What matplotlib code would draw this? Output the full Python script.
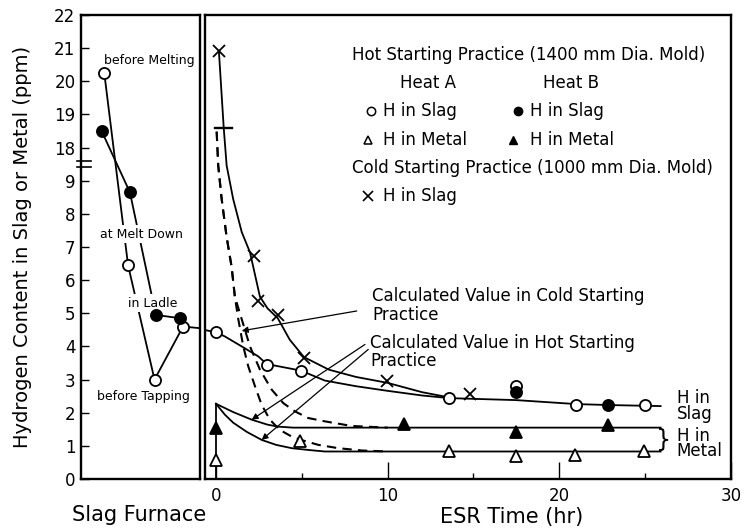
import numpy as np
import matplotlib.pyplot as plt
import matplotlib.transforms as mtransforms

plt.rcParams['font.family'] = 'DejaVu Sans'
plt.rcParams['font.size'] = 12

# ---- slag furnace stages (left panel) ----
stage_x_open = [0.1, 1.0, 2.0, 3.08]
stage_x_filled = [0.0, 1.07, 2.05, 2.98]
furnace_heatA = [20.25, 6.45, 3.0, 4.6]
furnace_heatB = [18.5, 8.65, 4.95, 4.85]
transfer_h = 4.55
stage_labels = ['before Melting', 'at Melt Down', 'in Ladle', 'before Tapping']

# ---- ESR measured values (right panel) ----
heatA_slag_t = [0, 2.95, 4.95, 13.6, 17.5, 21.0, 25.0]
heatA_slag_h = [4.43, 3.45, 3.27, 2.44, 2.8, 2.24, 2.24]
heatB_slag_t = [17.5, 22.85]
heatB_slag_h = [2.62, 2.24]
heatA_metal_t = [0, 4.88, 13.57, 17.5, 20.9, 24.94]
heatA_metal_h = [0.58, 1.15, 0.85, 0.68, 0.73, 0.83]
heatB_metal_t = [0, 10.93, 17.5, 22.85]
heatB_metal_h = [1.55, 1.67, 1.43, 1.62]
cold_slag_t = [0.17, 2.2, 2.46, 3.62, 5.12, 9.96, 14.77]
cold_slag_h = [20.9, 6.74, 5.37, 4.95, 3.66, 2.95, 2.57]

# ---- curves drawn through the data ----
slag_curve_t = [-0.7, 0, 0.52, 1.5, 2.46, 2.95, 4.95, 6.34, 8.15, 10, 12, 13.6,
                17.5, 21, 23, 25.9]
slag_curve_h = [4.5, 4.43, 4.3, 4.0, 3.7, 3.47, 3.27, 2.97, 2.8, 2.66, 2.52,
                2.44, 2.38, 2.26, 2.23, 2.2]
cold_curve_t = [0.17, 0.45, 0.62, 1.0, 1.5, 1.98, 2.56, 3.0, 3.6, 4.3, 5.12,
                6.57, 8.15, 10, 12, 13.6]
cold_curve_h = [20.9, 18.6, 9.46, 8.45, 7.45, 6.84, 5.5, 5.15, 4.85, 4.2,
                3.68, 3.3, 3.08, 2.9, 2.62, 2.46]

# calculated, hot starting practice (solid)
calc_hi_t = [0, 0.52, 1.0, 2.08, 3.0, 3.62, 4.5, 25.9]
calc_hi_h = [2.27, 2.14, 2.02, 1.79, 1.64, 1.58, 1.55, 1.55]
calc_lo_t = [0, 0.52, 1.0, 1.8, 2.66, 3.5, 4.41, 5.5, 6.34, 25.9]
calc_lo_h = [2.27, 1.94, 1.70, 1.42, 1.18, 1.03, 0.93, 0.87, 0.83, 0.83]

# calculated, cold starting practice (dashed)
dash_hi_t = [0.04, 0.13, 0.33, 0.62, 0.91, 1.1, 1.5, 1.98, 2.56, 3.24, 3.92,
             4.6, 5.37, 6.34, 7.9, 10.0]
dash_hi_h = [18.48, 9.46, 8.45, 7.3, 6.4, 5.5, 4.82, 4.0, 3.3, 2.7, 2.29,
             2.04, 1.84, 1.74, 1.6, 1.55]
dash_lo_t = [0.04, 0.13, 0.33, 0.62, 0.91, 1.1, 1.3, 1.59, 1.88, 2.27, 2.66,
             3.14, 3.72, 4.41, 4.95, 5.96, 7.12, 8.5, 10.0]
dash_lo_h = [18.48, 9.46, 8.45, 7.3, 6.4, 5.5, 4.82, 4.0, 3.4, 2.8, 2.24,
             1.79, 1.48, 1.28, 1.18, 1.03, 0.93, 0.86, 0.83]

ytick_vals = [0, 1, 2, 3, 4, 5, 6, 7, 8, 9, 18, 19, 20, 21, 22]


def brk(v):
    # broken axis: values above the gap are shifted down by 8 ppm
    v = np.asarray(v, dtype=float)
    return np.where(v > 12, v - 8.0, v)


fig = plt.figure(figsize=(7.51, 5.28), dpi=100)
axL = fig.add_axes([81/751, 49/528, 119/751, 464/528])
axR = fig.add_axes([205/751, 49/528, 526/751, 464/528])

for ax in (axL, axR):
    ax.set_ylim(0, 14)
    for s in ax.spines.values():
        s.set_linewidth(1.7)

axL.set_xlim(-0.78, 3.72)
axR.set_xlim(-0.64, 30)

axL.set_yticks(brk(ytick_vals))
axL.set_yticklabels([str(v) for v in ytick_vals])
axL.tick_params(axis='y', direction='in', length=6, width=1, pad=4,
                labelsize=12)
axL.set_xticks([])
axR.set_yticks([])
axR.set_xticks([0, 10, 20, 30])
axR.set_xticklabels(['0', '10', '20', '30'])
axR.set_xticks([5, 15, 25], minor=True)
axR.tick_params(axis='x', which='major', direction='in', length=12,
                width=1, pad=6, labelsize=12)
axR.tick_params(axis='x', which='minor', direction='in', length=4, width=1)

axL.set_ylabel('Hydrogen Content in Slag or Metal (ppm)', fontsize=14)
axL.yaxis.set_label_coords(-0.41, 0.5)
axL.text(0.49, -0.078, 'Slag Furnace', transform=axL.transAxes,
         ha='center', va='center', fontsize=15)
axR.text(0.582, -0.081, 'ESR Time (hr)', transform=axR.transAxes,
         ha='center', va='center', fontsize=15)

# axis break marks on the left spine
tb = mtransforms.blended_transform_factory(axL.transAxes, axL.transData)
for yb in (9.42, 9.6):
    axL.plot([-0.03, 0.08], [yb, yb], color='black', lw=1.2,
             transform=tb, clip_on=False)

lk = dict(color='black', lw=1.3)
open_kw = dict(ls='none', marker='o', ms=8, mfc='white', mec='black',
               mew=1.3, zorder=5)
fill_kw = dict(ls='none', marker='o', ms=8, mfc='black', mec='black',
               mew=1.3, zorder=5)

# ---- left panel ----
axL.plot(stage_x_open, brk(furnace_heatA), zorder=2, **lk)
axL.plot([stage_x_open[-1], axL.get_xlim()[1]],
         [furnace_heatA[-1], transfer_h], zorder=2, **lk)
axL.plot(stage_x_filled, brk(furnace_heatB), zorder=2, **lk)
axL.plot(stage_x_open, brk(furnace_heatA), **open_kw)
axL.plot(stage_x_filled, brk(furnace_heatB), **fill_kw)

label_pos = [(0.571, 0.903), (0.504, 0.528), (0.605, 0.379), (0.521, 0.177)]
for txt, (px, py) in zip(stage_labels, label_pos):
    axL.text(px, py, txt, transform=axL.transAxes, ha='center',
             va='center', fontsize=9, zorder=3,
             bbox=dict(fc='white', ec='none', pad=2))

# ---- right panel ----
axR.plot([0, 0], [0, calc_hi_h[0]], zorder=2, **lk)
axR.plot(slag_curve_t, brk(slag_curve_h), zorder=2, **lk)
axR.plot(cold_curve_t, brk(cold_curve_h), zorder=2, **lk)
axR.plot(calc_hi_t, brk(calc_hi_h), zorder=2, **lk)
axR.plot(calc_lo_t, brk(calc_lo_h), zorder=2, **lk)
axR.plot(dash_hi_t, brk(dash_hi_h), dashes=(4.5, 3), zorder=2, color='black',
         lw=1.5)
axR.plot(dash_lo_t, brk(dash_lo_h), dashes=(4.5, 3), zorder=2, color='black',
         lw=1.5)
axR.plot([-0.05, 0.95], brk([18.6, 18.6]), color='black', lw=1.7, zorder=3)

axR.plot(heatA_slag_t, brk(heatA_slag_h), **open_kw)
axR.plot(heatB_slag_t, brk(heatB_slag_h), **fill_kw)
axR.plot(heatA_metal_t, brk(heatA_metal_h), ls='none', marker='^', ms=9,
         mfc='white', mec='black', mew=1.3, zorder=5)
axR.plot(heatB_metal_t, brk(heatB_metal_h), ls='none', marker='^', ms=9,
         mfc='black', mec='black', mew=1.3, zorder=5)
axR.plot(cold_slag_t, brk(cold_slag_h), ls='none', marker='x', ms=8,
         mec='black', mew=1.3, zorder=5)

arrow_kw = dict(arrowstyle='-|>', color='black', lw=0.9, mutation_scale=9,
                shrinkA=0, shrinkB=0)
axR.annotate('', xy=(1.5, 4.47), xytext=(8.2, 5.07), arrowprops=arrow_kw)
axR.annotate('', xy=(2.08, 1.79), xytext=(8.68, 4.06), arrowprops=arrow_kw)
axR.annotate('', xy=(2.66, 1.18), xytext=(8.87, 3.91), arrowprops=arrow_kw)

axR.text(0.3175, 0.374, 'Calculated Value in Cold Starting\nPractice',
         transform=axR.transAxes, ha='left', va='center', fontsize=12,
         linespacing=1.05)
axR.text(0.3137, 0.274, 'Calculated Value in Hot Starting\nPractice',
         transform=axR.transAxes, ha='left', va='center', fontsize=12,
         linespacing=1.0)
axR.text(0.897, 0.157, 'H in\nSlag', transform=axR.transAxes, ha='left',
         va='center', fontsize=12, linespacing=0.85)
axR.text(0.897, 0.0765, 'H in\nMetal', transform=axR.transAxes, ha='left',
         va='center', fontsize=12, linespacing=0.85)
axR.text(0.872, 0.084, '}', transform=axR.transAxes, ha='center',
         va='center', fontsize=17)

# ---- legend block ----
ta = axR.transAxes
axR.text(0.2795, 0.914, 'Hot Starting Practice (1400 mm Dia. Mold)',
         transform=ta, ha='left', va='center', fontsize=12)
axR.text(0.371, 0.853, 'Heat A', transform=ta, ha='left', va='center',
         fontsize=12)
axR.text(0.643, 0.853, 'Heat B', transform=ta, ha='left', va='center',
         fontsize=12)
axR.plot([0.316], [0.793], marker='o', ms=6, mfc='white', mec='black',
         mew=1.1, transform=ta)
axR.text(0.338, 0.793, 'H in Slag', transform=ta, ha='left', va='center',
         fontsize=12)
axR.plot([0.595], [0.793], marker='o', ms=6, mfc='black', mec='black',
         transform=ta)
axR.text(0.617, 0.793, 'H in Slag', transform=ta, ha='left', va='center',
         fontsize=12)
axR.plot([0.31], [0.7306], marker='^', ms=6, mfc='white', mec='black',
         mew=1.1, transform=ta)
axR.text(0.338, 0.7306, 'H in Metal', transform=ta, ha='left',
         va='center', fontsize=12)
axR.plot([0.586], [0.7306], marker='^', ms=6, mfc='black', mec='black',
         transform=ta)
axR.text(0.617, 0.7306, 'H in Metal', transform=ta, ha='left',
         va='center', fontsize=12)
axR.text(0.2795, 0.670, 'Cold Starting Practice (1000 mm Dia. Mold)',
         transform=ta, ha='left', va='center', fontsize=12)
axR.plot([0.31], [0.61], marker='x', ms=7, mec='black', mew=1.2,
         transform=ta)
axR.text(0.338, 0.61, 'H in Slag', transform=ta, ha='left', va='center',
         fontsize=12)

fig.savefig('out.png', dpi=100)
